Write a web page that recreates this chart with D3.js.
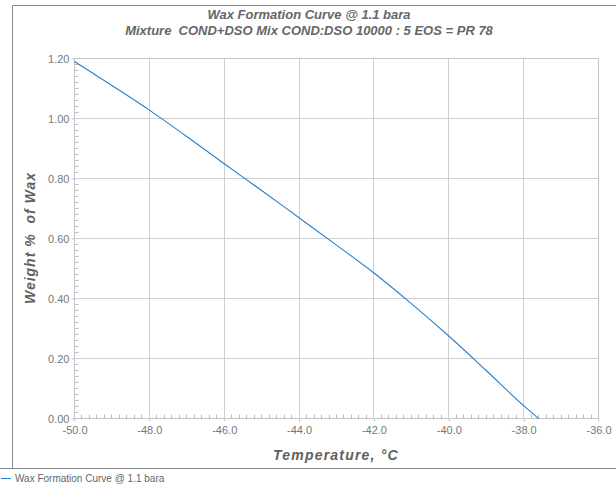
<!DOCTYPE html>
<html>
<head>
<meta charset="utf-8">
<script src="https://cdn.jsdelivr.net/npm/d3@7"></script>
<style>
  body { margin: 0; background: #fff; }
  text { font-family: "Liberation Sans", Arial, sans-serif; }
</style>
</head>
<body>
<div id="chart"></div>
<script>
const width = 616,
      height = 486,
      margin = { top: 58, right: 18, bottom: 68, left: 74 };

const innerWidth = width - (margin.right + margin.left),
      innerHeight = height - (margin.top + margin.bottom);

// data
const temps  = [-50.0, -49.0, -48.0, -47.0, -46.0, -45.0, -44.0, -43.0, -42.0, -41.0, -40.0, -39.0, -38.0, -37.6],
      weight = [1.190, 1.110, 1.028, 0.940, 0.849, 0.760, 0.669, 0.578, 0.485, 0.383, 0.275, 0.160, 0.043, 0.000];
const xTicks = [-50, -48, -46, -44, -42, -40, -38, -36],
      yTicks = [0, 0.2, 0.4, 0.6, 0.8, 1.0, 1.2];
const titleLines = ['Wax Formation Curve @ 1.1 bara',
                    'Mixture  COND+DSO Mix COND:DSO 10000 : 5 EOS = PR 78'],
      seriesName = 'Wax Formation Curve @ 1.1 bara';

const data = temps.map((t, i) => ({ t: t, w: weight[i] }));

const svg = d3.select('#chart').append('svg')
    .attr('width', width)
    .attr('height', height);

// outer frame
svg.append('line').attr('x1', 12.5).attr('x2', 12.5).attr('y1', 5.5).attr('y2', 468.5)
    .attr('stroke', '#8a8a8a');
svg.append('line').attr('x1', 12).attr('x2', width).attr('y1', 5.5).attr('y2', 5.5)
    .attr('stroke', '#8a8a8a');
svg.append('line').attr('x1', 0).attr('x2', width).attr('y1', 468.5).attr('y2', 468.5)
    .attr('stroke', '#8a8a8a');

const xScale = d3.scaleLinear()
    .domain([-50, -36])
    .range([0, innerWidth]);
const yScale = d3.scaleLinear()
    .domain([0, 1.2])
    .range([innerHeight, 0]);

const plot = svg.append('g')
    .attr('transform', `translate(${margin.left + 0.5}, ${margin.top + 0.5})`);

// grid
plot.selectAll('.vgrid')
  .data(xTicks)
  .enter().append('line')
    .attr('x1', d => Math.round(xScale(d))).attr('x2', d => Math.round(xScale(d)))
    .attr('y1', 0).attr('y2', innerHeight)
    .attr('stroke', '#cfcfcf');
plot.selectAll('.hgrid')
  .data(yTicks)
  .enter().append('line')
    .attr('y1', d => Math.round(yScale(d))).attr('y2', d => Math.round(yScale(d)))
    .attr('x1', 0).attr('x2', innerWidth)
    .attr('stroke', '#cfcfcf');

plot.append('rect')
    .attr('width', innerWidth).attr('height', innerHeight)
    .attr('fill', 'none').attr('stroke', '#c4c4c4');

// minor ticks
const xMinor = d3.range(-50, -36, 0.2).filter((d, i) => i % 10 !== 0);
const yMinor = d3.range(0, 1.2, 0.02).filter((d, i) => i % 10 !== 0);
plot.selectAll('.xminor')
  .data(xMinor)
  .enter().append('line')
    .attr('x1', d => Math.round(xScale(d))).attr('x2', d => Math.round(xScale(d)))
    .attr('y1', innerHeight).attr('y2', innerHeight - 4)
    .attr('stroke', '#bdbdbd');
plot.selectAll('.yminor')
  .data(yMinor)
  .enter().append('line')
    .attr('y1', d => Math.round(yScale(d))).attr('y2', d => Math.round(yScale(d)))
    .attr('x1', 0).attr('x2', 4)
    .attr('stroke', '#bdbdbd');

// axes
const fmtX = d => d3.format('.1f')(d).replace('\u2212', '-');
const xAxis = plot.append('g')
    .attr('transform', `translate(0, ${innerHeight})`)
    .call(d3.axisBottom(xScale).tickValues(xTicks).tickFormat(fmtX).tickSize(3).tickPadding(5));
const yAxis = plot.append('g')
    .call(d3.axisLeft(yScale).tickValues(yTicks).tickFormat(d3.format('.2f')).tickSize(3).tickPadding(2));

[xAxis, yAxis].forEach(a => {
  a.select('.domain').remove();
  a.selectAll('line').attr('stroke', '#c4c4c4');
  a.selectAll('text')
    .attr('fill', '#777')
    .style('font-size', '11px')
    .style('font-family', '"Liberation Sans", Arial, sans-serif');
});

// curve
const line = d3.line()
    .x(d => xScale(d.t))
    .y(d => yScale(d.w))
    .curve(d3.curveMonotoneX);

plot.append('path')
    .datum(data)
    .attr('fill', 'none')
    .attr('stroke', '#2a7fcc')
    .attr('stroke-width', 1.1)
    .attr('d', line);

// titles
svg.selectAll('.title')
  .data(titleLines)
  .enter().append('text')
    .attr('x', 309)
    .attr('y', (d, i) => 19 + i * 16)
    .attr('text-anchor', 'middle')
    .attr('fill', '#666')
    .style('font-size', '13px')
    .style('font-weight', 'bold')
    .style('font-style', 'italic')
    .style('white-space', 'pre')
    .text(d => d);

svg.append('text')
    .attr('x', margin.left + innerWidth / 2)
    .attr('y', 460)
    .attr('text-anchor', 'middle')
    .attr('fill', '#606060')
    .style('font-size', '14px')
    .style('letter-spacing', '1.2px')
    .style('font-weight', 'bold')
    .style('font-style', 'italic')
    .text('Temperature, °C');

svg.append('text')
    .attr('transform', `translate(35, ${margin.top + innerHeight / 2}) rotate(-90)`)
    .attr('text-anchor', 'middle')
    .attr('fill', '#606060')
    .style('font-size', '14px')
    .style('letter-spacing', '1px')
    .style('font-weight', 'bold')
    .style('font-style', 'italic')
    .style('white-space', 'pre')
    .text('Weight %  of Wax');

// legend
svg.append('line')
    .attr('x1', 1).attr('x2', 11).attr('y1', 478.5).attr('y2', 478.5)
    .attr('stroke', '#2a7fcc');
svg.append('text')
    .attr('x', 15).attr('y', 482)
    .attr('fill', '#666')
    .style('font-size', '10px')
    .text(seriesName);
</script>
</body>
</html>
